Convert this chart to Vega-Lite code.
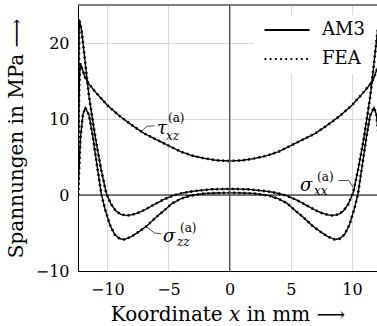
{
  "$schema": "https://vega.github.io/schema/vega-lite/v6.json",
  "width": 299,
  "height": 266,
  "autosize": {"type": "none"},
  "padding": {"left": 78, "top": 5, "right": 0, "bottom": 55},
  "config": {
    "font": "'DejaVu Serif', 'Liberation Serif', serif",
    "view": {"stroke": null},
    "axis": {
      "grid": true, "gridColor": "#d9d9d9", "gridWidth": 1,
      "ticks": false, "tickSize": 0,
      "domainColor": "black", "domainWidth": 1,
      "labelColor": "black", "labelFont": "'DejaVu Serif', 'Liberation Serif', serif", "labelFontSize": 16,
      "titleFont": "'DejaVu Serif', 'Liberation Serif', serif", "titleFontSize": 20, "titleFontWeight": "normal", "titleColor": "black"
    },
    "text": {"font": "'DejaVu Serif', 'Liberation Serif', serif"},
    "legend": {
      "orient": "none", "legendX": 176, "legendY": 10,
      "fillColor": "white", "padding": 6,
      "symbolType": "M-5,0H5", "symbolSize": 81, "symbolOffset": 18, "symbolStrokeWidth": 1.8, "symbolStrokeColor": "black",
      "labelFont": "'DejaVu Serif', 'Liberation Serif', serif", "labelFontSize": 18, "labelColor": "black", "labelOffset": 26, "rowPadding": 11
    }
  },
  "datasets": {
    "curves": [
      {"c": "tau", "x": -12.4, "y": 0}, {"c": "tau", "x": -12.36, "y": 8}, {"c": "tau", "x": -12.3, "y": 14.5}, {"c": "tau", "x": -12.22, "y": 17.3},
      {"c": "tau", "x": -12.1, "y": 16.8}, {"c": "tau", "x": -11.97, "y": 16.2}, {"c": "tau", "x": -11.8, "y": 15.4}, {"c": "tau", "x": -11.5, "y": 14.6},
      {"c": "tau", "x": -11, "y": 13.6}, {"c": "tau", "x": -10.5, "y": 12.7}, {"c": "tau", "x": -10, "y": 11.8}, {"c": "tau", "x": -9, "y": 10.4},
      {"c": "tau", "x": -8, "y": 9.2}, {"c": "tau", "x": -7, "y": 8.1}, {"c": "tau", "x": -6, "y": 7.3}, {"c": "tau", "x": -5, "y": 6.5},
      {"c": "tau", "x": -4, "y": 5.7}, {"c": "tau", "x": -3, "y": 5.15}, {"c": "tau", "x": -2, "y": 4.8}, {"c": "tau", "x": -1, "y": 4.55},
      {"c": "tau", "x": 0, "y": 4.48},
      {"c": "tau", "x": 1, "y": 4.55}, {"c": "tau", "x": 2, "y": 4.8}, {"c": "tau", "x": 3, "y": 5.15}, {"c": "tau", "x": 4, "y": 5.7},
      {"c": "tau", "x": 5, "y": 6.5}, {"c": "tau", "x": 6, "y": 7.3}, {"c": "tau", "x": 7, "y": 8.1}, {"c": "tau", "x": 8, "y": 9.2},
      {"c": "tau", "x": 9, "y": 10.4}, {"c": "tau", "x": 10, "y": 11.8}, {"c": "tau", "x": 10.5, "y": 12.7}, {"c": "tau", "x": 11, "y": 13.6},
      {"c": "tau", "x": 11.5, "y": 14.6}, {"c": "tau", "x": 11.8, "y": 15.4}, {"c": "tau", "x": 11.97, "y": 16.2}, {"c": "tau", "x": 12.1, "y": 16.8},
      {"c": "tau", "x": 12.22, "y": 17.3}, {"c": "tau", "x": 12.3, "y": 14.5}, {"c": "tau", "x": 12.36, "y": 8}, {"c": "tau", "x": 12.4, "y": 0},

      {"c": "sxx", "x": -12.4, "y": 0}, {"c": "sxx", "x": -12.3, "y": 23.1}, {"c": "sxx", "x": -12.1, "y": 21.6}, {"c": "sxx", "x": -11.9, "y": 18.7},
      {"c": "sxx", "x": -11.7, "y": 15.8}, {"c": "sxx", "x": -11.5, "y": 13.0}, {"c": "sxx", "x": -11.2, "y": 9.8}, {"c": "sxx", "x": -10.9, "y": 6.8},
      {"c": "sxx", "x": -10.5, "y": 3.3}, {"c": "sxx", "x": -10.1, "y": 0.3}, {"c": "sxx", "x": -9.7, "y": -1.2}, {"c": "sxx", "x": -9.3, "y": -2.1},
      {"c": "sxx", "x": -8.9, "y": -2.55}, {"c": "sxx", "x": -8.4, "y": -2.7}, {"c": "sxx", "x": -8.0, "y": -2.6}, {"c": "sxx", "x": -7.5, "y": -2.35},
      {"c": "sxx", "x": -7.0, "y": -2.0}, {"c": "sxx", "x": -6.5, "y": -1.55}, {"c": "sxx", "x": -6.0, "y": -1.1}, {"c": "sxx", "x": -5.4, "y": -0.6},
      {"c": "sxx", "x": -4.6, "y": -0.05}, {"c": "sxx", "x": -4.0, "y": 0.2}, {"c": "sxx", "x": -3.4, "y": 0.4}, {"c": "sxx", "x": -2.7, "y": 0.55},
      {"c": "sxx", "x": -1.5, "y": 0.75}, {"c": "sxx", "x": 0, "y": 0.8},
      {"c": "sxx", "x": 1.5, "y": 0.75}, {"c": "sxx", "x": 2.7, "y": 0.55}, {"c": "sxx", "x": 3.4, "y": 0.4}, {"c": "sxx", "x": 4.0, "y": 0.2},
      {"c": "sxx", "x": 4.6, "y": -0.05}, {"c": "sxx", "x": 5.4, "y": -0.6}, {"c": "sxx", "x": 6.0, "y": -1.1}, {"c": "sxx", "x": 6.5, "y": -1.55},
      {"c": "sxx", "x": 7.0, "y": -2.0}, {"c": "sxx", "x": 7.5, "y": -2.35}, {"c": "sxx", "x": 8.0, "y": -2.6}, {"c": "sxx", "x": 8.4, "y": -2.7},
      {"c": "sxx", "x": 8.9, "y": -2.55}, {"c": "sxx", "x": 9.3, "y": -2.1}, {"c": "sxx", "x": 9.7, "y": -1.2}, {"c": "sxx", "x": 10.1, "y": 0.3},
      {"c": "sxx", "x": 10.5, "y": 3.3}, {"c": "sxx", "x": 10.9, "y": 6.8}, {"c": "sxx", "x": 11.2, "y": 9.8}, {"c": "sxx", "x": 11.5, "y": 13.0},
      {"c": "sxx", "x": 11.7, "y": 15.8}, {"c": "sxx", "x": 11.9, "y": 18.7}, {"c": "sxx", "x": 12.1, "y": 21.6}, {"c": "sxx", "x": 12.3, "y": 23.1},
      {"c": "sxx", "x": 12.4, "y": 0},

      {"c": "szz", "x": -12.4, "y": 0}, {"c": "szz", "x": -12.2, "y": 7.5}, {"c": "szz", "x": -12.0, "y": 10.6}, {"c": "szz", "x": -11.8, "y": 11.5},
      {"c": "szz", "x": -11.5, "y": 10.5}, {"c": "szz", "x": -11.2, "y": 7.8}, {"c": "szz", "x": -10.9, "y": 4.5}, {"c": "szz", "x": -10.5, "y": 0.2},
      {"c": "szz", "x": -10.2, "y": -1.8}, {"c": "szz", "x": -9.8, "y": -3.9}, {"c": "szz", "x": -9.4, "y": -5.2}, {"c": "szz", "x": -9.0, "y": -5.75},
      {"c": "szz", "x": -8.6, "y": -5.85}, {"c": "szz", "x": -8.0, "y": -5.45}, {"c": "szz", "x": -7.4, "y": -4.8}, {"c": "szz", "x": -6.8, "y": -4.1},
      {"c": "szz", "x": -6.0, "y": -2.9}, {"c": "szz", "x": -5.4, "y": -2.1}, {"c": "szz", "x": -4.7, "y": -1.1}, {"c": "szz", "x": -4.0, "y": -0.5},
      {"c": "szz", "x": -3.3, "y": -0.12}, {"c": "szz", "x": -2.7, "y": 0.05}, {"c": "szz", "x": -2.0, "y": 0.2}, {"c": "szz", "x": -1.0, "y": 0.27},
      {"c": "szz", "x": 0, "y": 0.28},
      {"c": "szz", "x": 1.0, "y": 0.27}, {"c": "szz", "x": 2.0, "y": 0.2}, {"c": "szz", "x": 2.7, "y": 0.05}, {"c": "szz", "x": 3.3, "y": -0.12},
      {"c": "szz", "x": 4.0, "y": -0.5}, {"c": "szz", "x": 4.7, "y": -1.1}, {"c": "szz", "x": 5.4, "y": -2.1}, {"c": "szz", "x": 6.0, "y": -2.9},
      {"c": "szz", "x": 6.8, "y": -4.1}, {"c": "szz", "x": 7.4, "y": -4.8}, {"c": "szz", "x": 8.0, "y": -5.45}, {"c": "szz", "x": 8.6, "y": -5.85},
      {"c": "szz", "x": 9.0, "y": -5.75}, {"c": "szz", "x": 9.4, "y": -5.2}, {"c": "szz", "x": 9.8, "y": -3.9}, {"c": "szz", "x": 10.2, "y": -1.8},
      {"c": "szz", "x": 10.5, "y": 0.2}, {"c": "szz", "x": 10.9, "y": 4.5}, {"c": "szz", "x": 11.2, "y": 7.8}, {"c": "szz", "x": 11.5, "y": 10.5},
      {"c": "szz", "x": 11.8, "y": 11.5}, {"c": "szz", "x": 12.0, "y": 10.6}, {"c": "szz", "x": 12.2, "y": 7.5}, {"c": "szz", "x": 12.4, "y": 0}
    ],
    "leaders": [
      {"id": "tau", "k": 1, "x": -7.33, "y": 8.25}, {"id": "tau", "k": 2, "x": -6.75, "y": 9.05}, {"id": "tau", "k": 3, "x": -6.15, "y": 9.1},
      {"id": "szz", "k": 1, "x": -6.78, "y": -4.2}, {"id": "szz", "k": 2, "x": -6.15, "y": -5.0}, {"id": "szz", "k": 3, "x": -5.6, "y": -5.1},
      {"id": "sxx", "k": 1, "x": 8.9, "y": 1.9}, {"id": "sxx", "k": 2, "x": 9.75, "y": 1.9}, {"id": "sxx", "k": 3, "x": 10.1, "y": 1.0}
    ],
    "taulabel": [{"x": -5.94, "y": 8.71, "sym": "τ", "sup": "(a)", "sub": "xz"}],
    "siglabels": [
      {"x": -5.45, "y": -5.59, "sym": "σ", "sup": "(a)", "sub": "zz"},
      {"x": 5.76, "y": 1.2, "sym": "σ", "sup": "(a)", "sub": "xx"}
    ]
  },
  "layer": [
    {
      "data": {"name": "curves"},
      "mark": {"type": "line", "color": "black", "strokeWidth": 1.4, "clip": true},
      "encoding": {
        "x": {"field": "x", "type": "quantitative",
          "scale": {"domain": [-12.4, 12.05], "nice": false, "zero": false},
          "axis": {"values": [-10, -5, 0, 5, 10], "title": "Koordinate 𝑥 in mm ⟶", "labelPadding": 10, "titlePadding": 7}},
        "y": {"field": "y", "type": "quantitative",
          "scale": {"domain": [-10, 25], "nice": false, "zero": false},
          "axis": {"values": [-10, 0, 10, 20], "title": "Spannungen in MPa      ⟶", "labelPadding": 9, "titlePadding": 9}},
        "detail": {"field": "c"},
        "strokeDash": {"datum": "AM3", "type": "nominal",
          "scale": {"domain": ["AM3", "FEA"], "range": [[1, 0], [1.8, 3.4]]},
          "legend": {"title": null}}
      }
    },
    {
      "data": {"name": "curves"},
      "mark": {"type": "line", "color": "black", "strokeWidth": 2.6, "clip": true},
      "encoding": {
        "x": {"field": "x", "type": "quantitative"},
        "y": {"field": "y", "type": "quantitative"},
        "detail": {"field": "c"},
        "strokeDash": {"datum": "FEA", "type": "nominal"}
      }
    },
    {
      "data": {"values": [{}]},
      "mark": {"type": "rule", "color": "black", "strokeWidth": 1},
      "encoding": {"y": {"datum": 0, "type": "quantitative"}}
    },
    {
      "data": {"values": [{}]},
      "mark": {"type": "rule", "color": "black", "strokeWidth": 1},
      "encoding": {"y": {"datum": 25, "type": "quantitative"}}
    },
    {
      "data": {"values": [{}]},
      "mark": {"type": "rule", "color": "#4d4d4d", "strokeWidth": 1.2},
      "encoding": {"x": {"datum": 0, "type": "quantitative"}}
    },
    {
      "data": {"name": "leaders"},
      "mark": {"type": "line", "color": "#222222", "strokeWidth": 0.8},
      "encoding": {
        "x": {"field": "x", "type": "quantitative"},
        "y": {"field": "y", "type": "quantitative"},
        "detail": {"field": "id"},
        "order": {"field": "k"}
      }
    },
    {
      "data": {"name": "taulabel"},
      "layer": [
        {"mark": {"type": "text", "align": "left", "baseline": "middle", "fontSize": 18, "fontStyle": "italic", "color": "black"},
         "encoding": {"x": {"field": "x", "type": "quantitative"}, "y": {"field": "y", "type": "quantitative"}, "text": {"field": "sym"}}},
        {"mark": {"type": "text", "align": "left", "baseline": "middle", "fontSize": 12, "dx": 11, "dy": -11, "color": "black"},
         "encoding": {"x": {"field": "x", "type": "quantitative"}, "y": {"field": "y", "type": "quantitative"}, "text": {"field": "sup"}}},
        {"mark": {"type": "text", "align": "left", "baseline": "middle", "fontSize": 12, "fontStyle": "italic", "dx": 9, "dy": 7, "color": "black"},
         "encoding": {"x": {"field": "x", "type": "quantitative"}, "y": {"field": "y", "type": "quantitative"}, "text": {"field": "sub"}}}
      ]
    },
    {
      "data": {"name": "siglabels"},
      "layer": [
        {"mark": {"type": "text", "align": "left", "baseline": "middle", "fontSize": 18, "fontStyle": "italic", "color": "black"},
         "encoding": {"x": {"field": "x", "type": "quantitative"}, "y": {"field": "y", "type": "quantitative"}, "text": {"field": "sym"}}},
        {"mark": {"type": "text", "align": "left", "baseline": "middle", "fontSize": 12, "dx": 17, "dy": -9, "color": "black"},
         "encoding": {"x": {"field": "x", "type": "quantitative"}, "y": {"field": "y", "type": "quantitative"}, "text": {"field": "sup"}}},
        {"mark": {"type": "text", "align": "left", "baseline": "middle", "fontSize": 12, "fontStyle": "italic", "dx": 14, "dy": 5, "color": "black"},
         "encoding": {"x": {"field": "x", "type": "quantitative"}, "y": {"field": "y", "type": "quantitative"}, "text": {"field": "sub"}}}
      ]
    }
  ]
}
